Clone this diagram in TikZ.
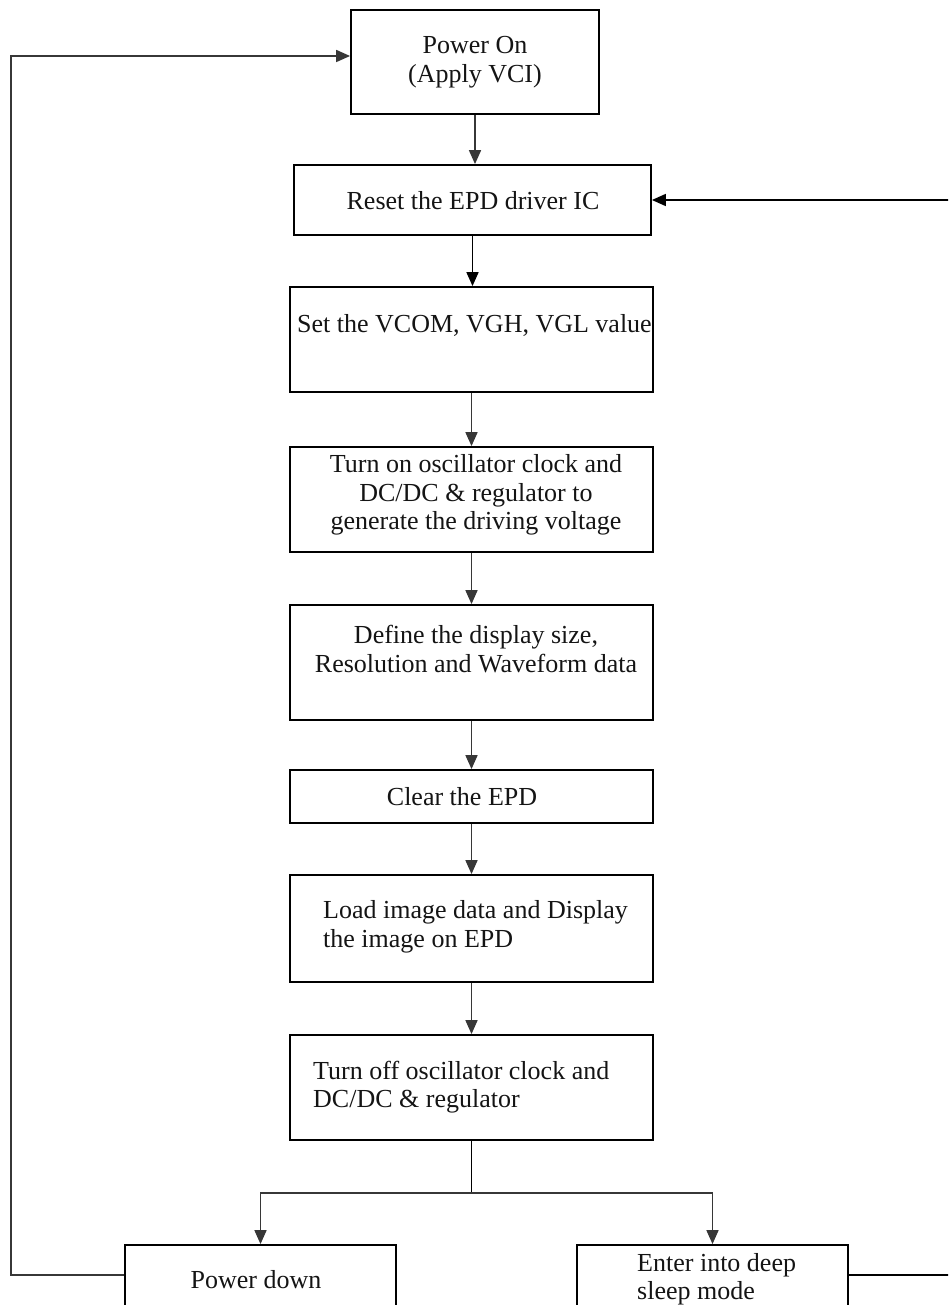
\documentclass[tikz,border=0pt]{standalone}
\usepackage{fontspec}
\setmainfont{Liberation Serif}
\usetikzlibrary{arrows.meta}
\definecolor{lc}{RGB}{55,55,55}
\definecolor{tc}{RGB}{20,20,20}
\tikzset{
  box/.style={draw=black, line width=1.8pt, inner sep=0pt},
  txt/.style={font=\fontsize{26}{28.5}\selectfont, inner sep=0pt, text=tc},
  ln/.style={draw=lc, line width=1.7pt},
  arr/.style={ln, -{Triangle[length=14pt,width=12pt]}},
}
\begin{document}
\begin{tikzpicture}[x=1pt,y=-1pt]
\useasboundingbox (0,0) rectangle (948,1305);
\clip (0,0) rectangle (948,1305);
% boxes
\node[box, minimum width=248pt, minimum height=104pt] (pon)   at (475,62) {};
\node[box, minimum width=357pt, minimum height=70pt]  (reset) at (472.5,200) {};
\node[box, minimum width=363pt, minimum height=105pt] (vcom)  at (471.5,339.5) {};
\node[box, minimum width=363pt, minimum height=105pt] (ton)   at (471.5,499.5) {};
\node[box, minimum width=363pt, minimum height=115pt] (def)   at (471.5,662.5) {};
\node[box, minimum width=363pt, minimum height=53pt]  (clear) at (471.5,796.5) {};
\node[box, minimum width=363pt, minimum height=107pt] (load)  at (471.5,928.5) {};
\node[box, minimum width=363pt, minimum height=105pt] (toff)  at (471.5,1087.5) {};
\node[box, minimum width=271pt, minimum height=80pt]  (pdown) at (260.5,1285) {};
\node[box, minimum width=271pt, minimum height=80pt]  (sleep) at (712.5,1285) {};
% texts
\node[txt, align=center] (tpon) at (475,62) {Power On\\(Apply VCI)};
\node[txt] (treset) at (473,201) {Reset the EPD driver IC};
\node[txt] (tvcom) at (474.5,325) {Set the VCOM, VGH, VGL value};
\node[txt, align=center] (tton) at (476,495) {Turn on oscillator clock and\\DC/DC \& regulator to\\generate the driving voltage};
\node[txt, align=center] (tdef) at (476,649) {Define the display size,\\Resolution and Waveform data};
\node[txt] (tclear) at (462,797) {Clear the EPD};
\node[txt, align=left, anchor=west] (tload) at (323,927) {Load image data and Display\\the image on EPD};
\node[txt, align=left, anchor=west] (ttoff) at (313,1087) {Turn off oscillator clock and\\DC/DC \& regulator};
\node[txt] (tpdown) at (256,1280) {Power down};
\node[txt, align=left, anchor=west] (tsleep) at (637,1279) {Enter into deep\\sleep mode};
% connectors
\draw[arr] (pon.south) -- (pon.south |- reset.north);
\draw[arr, draw=black] (reset.south) -- (reset.south |- vcom.north);
\draw[arr] (vcom.south) -- (vcom.south |- ton.north);
\draw[arr] (ton.south) -- (ton.south |- def.north);
\draw[arr] (def.south) -- (def.south |- clear.north);
\draw[arr] (clear.south) -- (clear.south |- load.north);
\draw[arr] (load.south) -- (load.south |- toff.north);
\coordinate (bj) at (471.5,1193);
\draw[ln, draw=black] (toff.south) -- (bj);
\draw[arr] (bj) -| (pdown.north);
\draw[arr] (bj) -| (sleep.north);
% left loop
\coordinate (lbot) at (11,1275);
\coordinate (ltop) at (11,56);
\draw[arr] (pdown.west |- lbot) -- (lbot) -- (ltop) -- (pon.west |- ltop);
% right loop (runs off the page)
\coordinate (rin) at (952,200);
\coordinate (rout) at (952,1275);
\draw[arr, draw=black] (rin) -- (reset.east);
\draw[ln, draw=black] (sleep.east |- rout) -- (rout);
\end{tikzpicture}
\end{document}
